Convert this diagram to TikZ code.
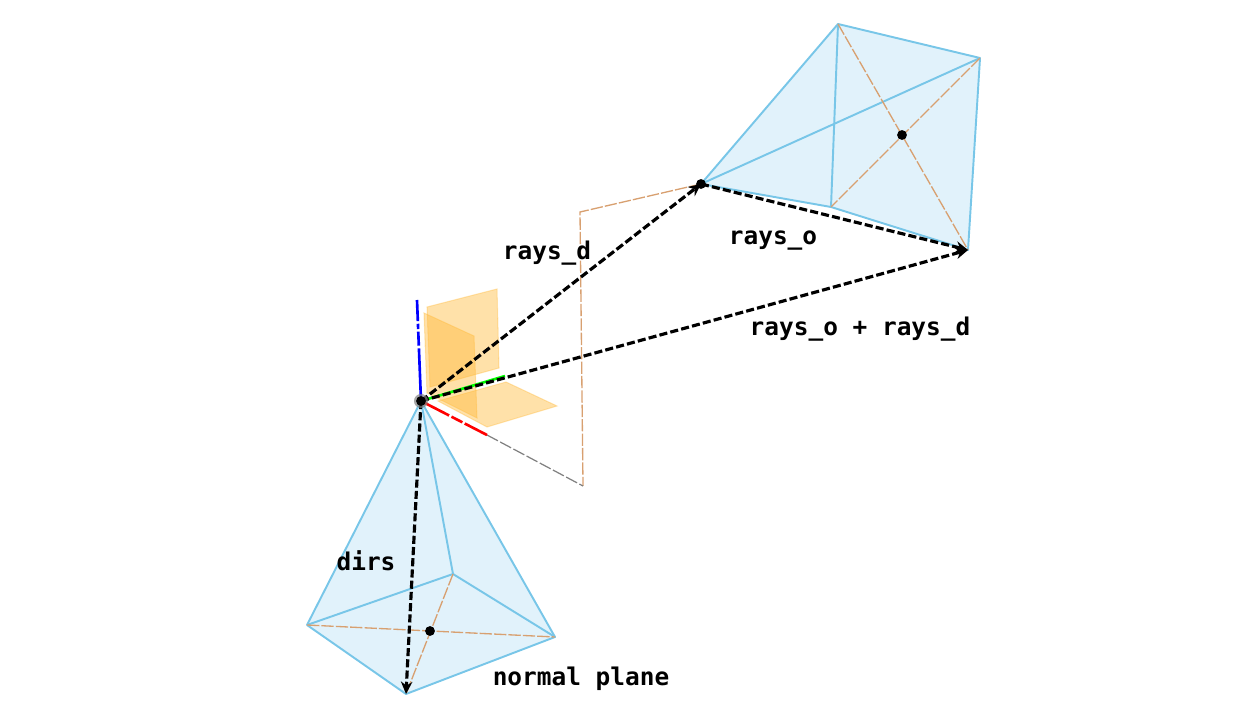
\documentclass[tikz,border=0pt]{standalone}
\usepackage{fontspec}
\setmonofont{DejaVu Sans Mono}
\usetikzlibrary{arrows.meta}
\definecolor{frustumblue}{HTML}{78C6E8}
\definecolor{frustumfill}{HTML}{E1F2FB}
\definecolor{planeorange}{HTML}{FFB733}
\definecolor{guidebrown}{HTML}{D8A070}
\tikzset{
  frustum/.style={draw=frustumblue, line width=1.1pt, line join=round},
  guide/.style={draw=guidebrown, line width=0.75pt, dash pattern=on 7pt off 1.2pt},
  plane/.style={draw=planeorange, draw opacity=0.35, fill=planeorange, fill opacity=0.42, line width=0.6pt},
  ray/.style={-{Stealth[length=7pt,width=6.5pt]}, black, line width=1.8pt, dash pattern=on 4.6pt off 1.8pt},
  axis/.style={line width=1.5pt},
  dot/.style={circle, fill=black, inner sep=0pt, minimum size=5.6pt},
  label/.style={font=\ttfamily\bfseries\fontsize{13.9}{16}\selectfont, inner sep=0pt}
}
\begin{document}
\begin{tikzpicture}[x=0.02cm, y=-0.02cm]
    \useasboundingbox (0, 0) rectangle (1239, 705);

    % Point definitions
    \coordinate (o) at (421, 401);
    \coordinate (a1) at (307, 625);
    \coordinate (a2) at (453, 574);
    \coordinate (a3) at (555, 637);
    \coordinate (a4) at (406, 694);
    \coordinate (p) at (701, 184);
    \coordinate (b1) at (838, 24);
    \coordinate (b2) at (980, 58);
    \coordinate (b3) at (968, 250);
    \coordinate (b4) at (831, 207);
    \coordinate (k) at (580, 212);
    \coordinate (m) at (583, 486);
    \coordinate (xend) at (487, 435);
    \coordinate (yend) at (505, 376);
    \coordinate (zend) at (417, 300);

    % Coordinate planes
    \draw[plane] (427, 307) -- (497, 289) -- (499, 368) -- (430, 387) -- cycle;
    \draw[plane] (424, 313) -- (474, 336) -- (477, 418) -- (427, 393) -- cycle;
    \draw[plane] (438, 401) -- (506, 382) -- (557, 406) -- (487, 427) -- cycle;

    % Lower frustum
    \fill[frustumfill] (o) -- (a1) -- (a4) -- (a3) -- cycle;
    \draw[frustum] (o) -- (a1) -- (a4) -- (a3) -- cycle;
    \draw[frustum] (o) -- (a2);
    \draw[frustum] (a1) -- (a2) -- (a3);
    \draw[guide] (a1) -- (a3);
    \draw[guide] (a2) -- (a4);

    % Upper frustum
    \fill[frustumfill] (p) -- (b1) -- (b2) -- (b3) -- (b4) -- cycle;
    \draw[frustum] (p) -- (b1) -- (b2) -- (b3) -- (b4) -- cycle;
    \draw[frustum] (p) -- (b2);
    \draw[frustum] (b1) -- (b4);
    \draw[guide] (b1) -- (b3);
    \draw[guide] (b2) -- (b4);

    % Guide lines
    \draw[guide] (p) -- (k) -- (m);
    \draw[gray, line width=0.7pt, dash pattern=on 7pt off 1.5pt] (xend) -- (m);

    % Axes
    \draw[axis, red, dash pattern=on 18pt off 1.5pt on 7pt off 1.5pt on 30pt] (o) -- (xend);
    \draw[axis, green] (o) -- (yend);
    \draw[axis, blue, dash pattern=on 30pt off 1.5pt on 8pt off 1.5pt on 3pt off 1.5pt] (o) -- (zend);

    % Rays
    \draw[ray] (o) -- (p);
    \draw[ray] (o) -- (b3);
    \draw[ray] (p) -- (b3);
    \draw[ray] (o) -- (a4);

    % Dots
    \node[dot, fill=gray, opacity=0.7, minimum size=8pt] (ohalo) at (o) {};
    \node[dot] (odot) at (o) {};
    \node[dot] (pdot) at (p) {};
    \node[dot] (acentre) at (430, 631) {};
    \node[dot] (bcentre) at (902, 135) {};

    % Labels
    \node[label] (raysd) at (547, 253) {rays\_d};
    \node[label] (rayso) at (773, 241) {rays\_o};
    \node[label] (sum) at (860, 329) {rays\_o + rays\_d};
    \node[label] (dirs) at (366, 561) {dirs};
    \node[label] (normal) at (581, 679) {normal plane};
\end{tikzpicture}
\end{document}
